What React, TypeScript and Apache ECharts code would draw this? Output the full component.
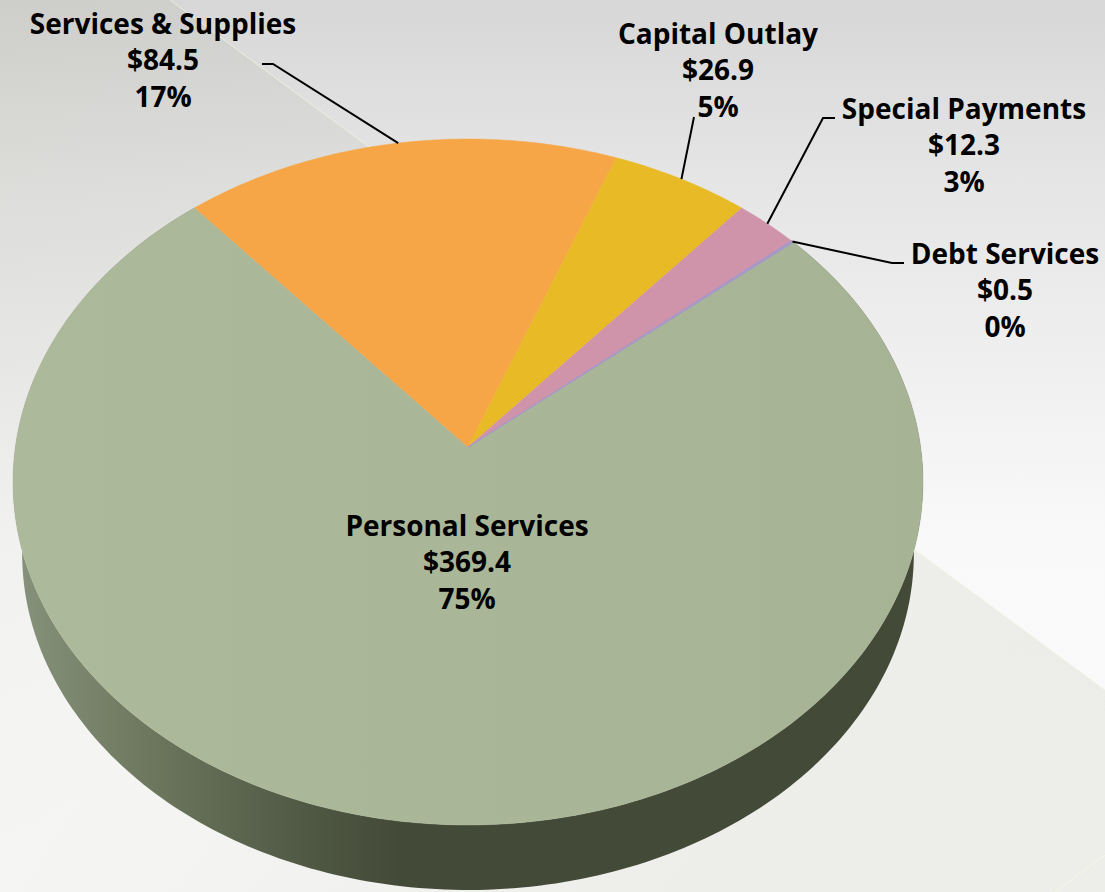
import React, { useEffect, useRef } from "react";
import * as echarts from "echarts";

const categories = ["Personal Services", "Services & Supplies", "Capital Outlay", "Special Payments", "Debt Services"];
const amounts = [369.4, 84.5, 26.9, 12.3, 0.5];
const percentLabels = ["75%", "17%", "5%", "3%", "0%"];

const sliceColors = ["#a9b697", "#f6a646", "#e8bb26", "#d094aa", "#a597c8"];
const labelCenters = [[467, 525], [163, 23], [718, 33], [964, 108], [1005, 253]];
const leaderElbows: number[][][] = [
  [],
  [[273, 64], [262, 64]],
  [[694, 117]],
  [[823, 118], [835, 118]],
  [[892, 263], [904, 263]],
];

const START_DEG = 50;
const CX = 468;
const TOP = { apexY: 447, a: 452.6, b: 339.4 };
const BASE = { apexY: 519.6, a: 443.5, b: 332.6 };
const K = 0.102;
const LINE = 36.3;
const FONT = '"Open Sans", "Noto Sans", sans-serif';

const total = amounts.reduce((s, v) => s + v, 0);
const project = (deg: number, ring: { apexY: number; a: number; b: number }) => {
  const t = (deg * Math.PI) / 180;
  const u = Math.sin(t);
  const v = -Math.cos(t);
  const w = 1 - K * v;
  return [CX + (ring.a * u) / w, ring.apexY + (ring.b * v) / w];
};
const sliceRange = (idx: number) => {
  const before = amounts.slice(0, idx).reduce((s, v) => s + v, 0);
  const start = START_DEG + (before / total) * 360;
  return [start, start + (amounts[idx] / total) * 360];
};
const arc = (from: number, to: number, ring: typeof TOP) => {
  const n = Math.max(2, Math.ceil((to - from) / 1));
  const pts: number[][] = [];
  for (let i = 0; i <= n; i++) pts.push(project(from + ((to - from) * i) / n, ring));
  return pts;
};
// The wall of a slice shows only if its arc passes through the front half of the pie.
const reachesFront = (s: number, e: number) => {
  const a = ((s % 360) + 360) % 360;
  return a + (e - s) > 90 && a < 270;
};

const sourceData = amounts.map((v, i) => [v, i]);

export default function App() {
  const ref = useRef<HTMLDivElement>(null);
  useEffect(() => {
    document.body.style.margin = "0";
    const chart = echarts.init(ref.current!, null, { renderer: "svg" });
    const G = echarts.graphic.LinearGradient as any;
    const wallFill = new G(22, 0, 400, 0, [
      { offset: 0, color: "#85917a" },
      { offset: 0.3, color: "#6f7a60" },
      { offset: 0.7, color: "#535c47" },
      { offset: 1, color: "#434a38" },
    ], true);
    const personalFill = new G(14, 0, 923, 0, [
      { offset: 0, color: "#acb99a" },
      { offset: 1, color: "#a6b394" },
    ], true);
    chart.setOption({
      animation: false,
      tooltip: { show: false },
      graphic: [
        {
          type: "rect", z: -10, silent: true,
          shape: { x: 0, y: 0, width: 1105, height: 892 },
          style: {
            fill: new G(0, 0, 0, 892, [
              { offset: 0, color: "#d7d7d7" },
              { offset: 0.2, color: "#e5e5e5" },
              { offset: 0.4, color: "#efefef" },
              { offset: 0.6, color: "#f9f9f9" },
              { offset: 1, color: "#fbfbfb" },
            ], true),
          },
        },
        {
          type: "polygon", z: -9, silent: true,
          shape: { points: [[170, 0], [1105, 690], [1105, 892], [0, 892], [0, 0]] },
          style: {
            fill: new G(0, 0, 700, 892, [
              { offset: 0, color: "rgba(90,90,55,0.075)" },
              { offset: 0.6, color: "rgba(90,90,55,0.035)" },
              { offset: 1, color: "rgba(90,90,55,0.085)" },
            ], true),
          },
        },
        {
          type: "line", z: -8, silent: true,
          shape: { x1: 170, y1: 0, x2: 1105, y2: 690 },
          style: { stroke: "rgba(245,245,225,0.7)", lineWidth: 1 },
        },
        {
          type: "line", z: -8, silent: true,
          shape: { x1: 1055, y1: 892, x2: 1105, y2: 855 },
          style: { stroke: "#f6f6e6", lineWidth: 1 },
        },
      ],
      series: [
        {
          type: "custom", name: "wall", coordinateSystem: "none", z: 1, silent: true,
          data: sourceData,
          renderItem: (_p: any, api: any) => {
            const idx = api.value(1);
            const [s, e] = sliceRange(idx);
            if (!reachesFront(s, e)) return { type: "group", children: [] };
            const pts = [...arc(s, e, TOP), ...arc(s, e, BASE).reverse()];
            return { type: "polygon", shape: { points: pts }, style: { fill: idx === 0 ? wallFill : "#434a38" } };
          },
        },
        {
          type: "custom", name: "Budget", coordinateSystem: "none", z: 2, silent: true,
          data: sourceData,
          renderItem: (_p: any, api: any) => {
            const idx = api.value(1);
            const [s, e] = sliceRange(idx);
            const pts = [[CX, TOP.apexY], ...arc(s, e, TOP)];
            return {
              type: "polygon",
              shape: { points: pts },
              style: {
                fill: idx === 0 ? personalFill : sliceColors[idx],
                stroke: idx === 0 ? personalFill : sliceColors[idx],
                lineWidth: idx === 4 ? 1 : 0.5,
              },
            };
          },
        },
        {
          type: "custom", name: "labels", coordinateSystem: "none", z: 3, silent: true,
          data: sourceData,
          renderItem: (_p: any, api: any) => {
            const idx = api.value(1);
            const [s, e] = sliceRange(idx);
            const children: any[] = [];
            if (leaderElbows[idx].length) {
              children.push({
                type: "polyline",
                shape: { points: [project((s + e) / 2, TOP), ...leaderElbows[idx]] },
                style: { stroke: "#000", lineWidth: 2, fill: "none" },
              });
            }
            const [lx, ly] = labelCenters[idx];
            [categories[idx], "$" + api.value(0).toFixed(1), percentLabels[idx]].forEach((text, i) => {
              children.push({
                type: "text",
                style: {
                  text, x: lx, y: ly + i * LINE,
                  align: "center", verticalAlign: "middle",
                  font: `bold 28px ${FONT}`, fill: "#000",
                },
              });
            });
            return { type: "group", children };
          },
        },
      ],
    });
    return () => chart.dispose();
  }, []);
  return <div ref={ref} style={{ position: "absolute", left: 0, top: 0, width: 1105, height: 892 }} />;
}
